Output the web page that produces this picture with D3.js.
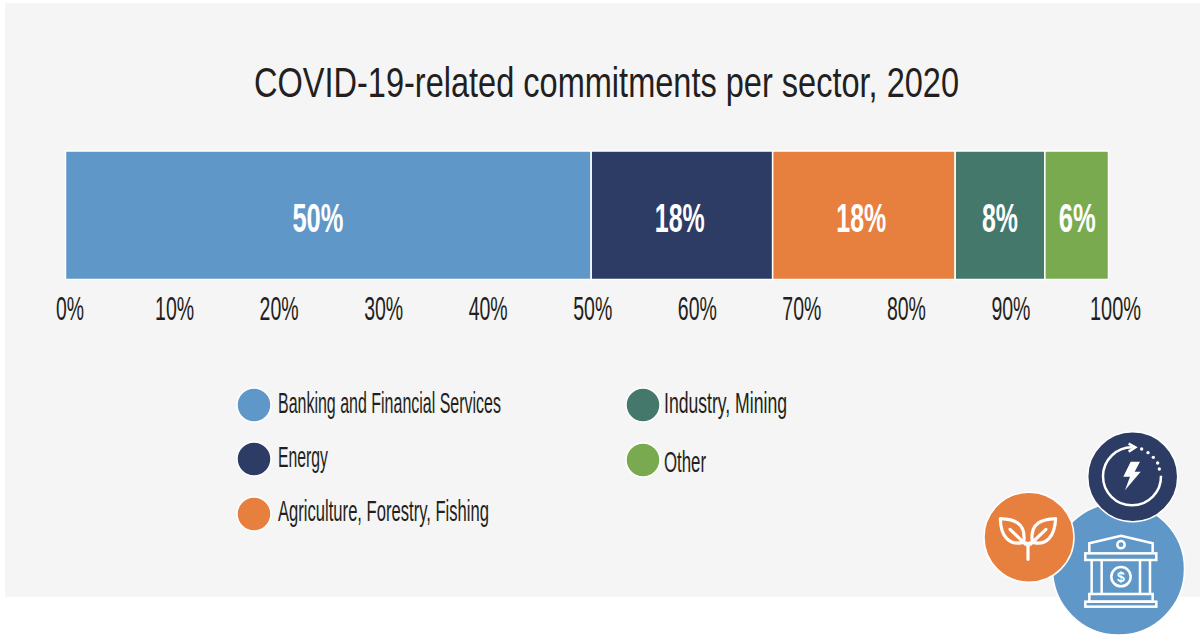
<!DOCTYPE html>
<html><head><meta charset="utf-8">
<script src="https://cdn.jsdelivr.net/npm/d3@7"></script>
<style>html,body{margin:0;padding:0;background:#fff}svg{display:block}
text{font-family:"Liberation Sans Narrow","Liberation Sans",sans-serif}</style>
</head><body><svg id="c" width="1200" height="636"></svg>
<script>
const title = "COVID-19-related commitments per sector, 2020";
const sectors = ["Banking and Financial Services","Energy","Agriculture, Forestry, Fishing","Industry, Mining","Other"];
const shares = [50.4,17.4,17.5,8.6,6.1];
const shareLabels = ["50%","18%","18%","8%","6%"];
const labelAnchors = [24.2,58.9,76.3,89.6,97];
const colors = ["#6097c9","#2d3c65","#e77f3f","#43786b","#7aaa4f"];
const ticks = [0,10,20,30,40,50,60,70,80,90,100];

const ink = "#231f20", white = "#fff";
const svg = d3.select("#c");
svg.append("rect").attr("x",5).attr("y",3).attr("width",1195).attr("height",594).attr("fill","#f5f5f5");

const fit = (sel, w) => sel.attr("textLength", w).attr("lengthAdjust","spacingAndGlyphs");

svg.append("text").text(title).attr("x",606.5).attr("y",97).attr("text-anchor","middle")
  .attr("font-size",42).attr("fill",ink).call(fit,705);

const x = d3.scaleLinear().domain([0,100]).range([65.5,1108.5]);
const y = d3.scaleBand().domain(["2020"]).range([151,279.5]);
const tickX = d3.scaleLinear().domain([0,100]).range([69.5,1115]);

const stacked = d3.stack().keys(d3.range(shares.length))([shares]);
svg.append("g").selectAll("rect").data(stacked).join("rect")
  .attr("x",d=>x(d[0][0])).attr("width",d=>x(d[0][1])-x(d[0][0]))
  .attr("y",y("2020")).attr("height",y.bandwidth())
  .attr("fill",(d,i)=>colors[i]).attr("stroke",white).attr("stroke-width",1.5);

const labelW = [51,50,50,36,37];
svg.append("g").selectAll("text").data(shareLabels).join("text").text(d=>d)
  .attr("x",(d,i)=>x(labelAnchors[i])).attr("y",232).attr("text-anchor","middle")
  .attr("font-size",41).attr("font-weight",700).attr("fill",white)
  .attr("textLength",(d,i)=>labelW[i]).attr("lengthAdjust","spacingAndGlyphs");

const axis = d3.axisBottom(tickX).tickValues(ticks).tickSize(0).tickPadding(0).tickFormat(d=>d+"%");
const ag = svg.append("g").attr("transform","translate(0,319.5)").call(axis);
ag.select(".domain").remove();
ag.selectAll("text").attr("dy",0).attr("y",0).attr("font-size",33).attr("font-family",null)
  .attr("fill",ink).style("font-family",'"Liberation Sans Narrow","Liberation Sans",sans-serif')
  .attr("textLength",d=>d===0?28:d===100?51:39).attr("lengthAdjust","spacingAndGlyphs");

const legendPos = [[254,405],[254,459],[254,514],[643,405],[643,460]];
const legendText = [[278,413,223],[278,467,50],[278,521,211],[664,413,123],[664,472,42]];
const lg = svg.append("g");
sectors.forEach((s,i)=>{
  lg.append("circle").attr("cx",legendPos[i][0]).attr("cy",legendPos[i][1]).attr("r",17)
    .attr("fill",colors[i]).attr("stroke",white).attr("stroke-width",1.5);
  lg.append("text").text(s).attr("x",legendText[i][0]).attr("y",legendText[i][1])
    .attr("font-size",29).attr("fill",ink).call(fit,legendText[i][2]);
});

// badges
const badge = (cx,cy,r,f)=>svg.append("circle").attr("cx",cx).attr("cy",cy).attr("r",r).attr("fill",f).attr("stroke",white).attr("stroke-width",1.5);
badge(1118.5,569,66,colors[0]);
badge(1029,537.3,45,colors[2]);
badge(1132.7,476.7,45,colors[1]);

// bank icon (drawn in 3x units)
const bank = svg.append("g").attr("transform","translate(1060,525) scale(0.3333)")
  .attr("fill","none").attr("stroke",white).attr("stroke-width",7.5);
bank.append("path").attr("d","M88 82V55L183 32L278 55V82");
bank.append("circle").attr("cx",183).attr("cy",59).attr("r",11);
bank.append("rect").attr("x",76).attr("y",85).attr("width",213).attr("height",20);
bank.append("path").attr("d","M95 105V207M125 105V207M240 105V207M270 105V207");
bank.append("rect").attr("x",88).attr("y",207).attr("width",190).attr("height",23);
bank.append("rect").attr("x",76).attr("y",230).attr("width",213).attr("height",15);
bank.append("circle").attr("cx",183).attr("cy",155).attr("r",29);
bank.append("text").text("$").attr("x",183).attr("y",170).attr("text-anchor","middle").attr("font-size",42).attr("font-weight",700)
  .attr("fill",white).attr("stroke","none");

// leaf icon (3x units, origin 960,420)
const leaf = svg.append("g").attr("transform","translate(960,420) scale(0.3333)")
  .attr("fill","none").attr("stroke",white).attr("stroke-width",9.5).attr("stroke-linecap","round").attr("stroke-linejoin","round");
leaf.append("path").attr("d","M204 418V378C204 368 192 366 186 368C150 376 122 352 121 296C160 298 196 306 192 360M150 328L196 372");
leaf.append("path").attr("d","M204 378C204 368 216 366 222 368C258 376 284 352 287 296C248 298 212 306 216 360M258 328L212 372");

// energy icon (3x units, origin 1060,425)
const en = svg.append("g").attr("transform","translate(1060,425) scale(0.3333)");
en.append("path").attr("d","M303 152A87 87 0 1 1 218 67").attr("fill","none").attr("stroke",white).attr("stroke-width",7.5);
en.append("path").attr("d","M206 56L226 67L206 80").attr("fill","none").attr("stroke",white).attr("stroke-width",7.5);
en.selectAll("circle").data([[245,72],[264,83],[280,97],[293,114],[298,132]]).join("circle")
  .attr("cx",d=>d[0]).attr("cy",d=>d[1]).attr("r",5).attr("fill",white);
en.append("path").attr("d","M212 110H240L224 140H242L195 196L210 155H190Z").attr("fill",white);
</script></body></html>
